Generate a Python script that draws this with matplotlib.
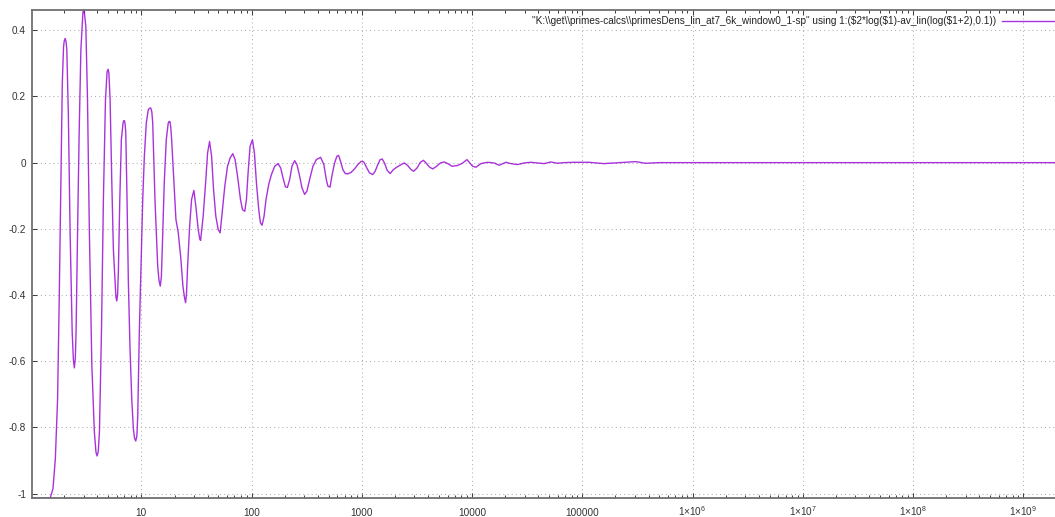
import numpy as np
import matplotlib
matplotlib.use('Agg')
import matplotlib.pyplot as plt
from matplotlib.ticker import FixedLocator, LogLocator, NullFormatter

# curve (x on a log axis)
x_values = [
    1.02, 1.49, 1.58, 1.66, 1.74, 1.80, 1.87, 1.92, 1.97, 2.00, 2.04, 2.08, 2.11, 2.18, 2.26,
    2.36, 2.42, 2.47, 2.52, 2.56, 2.64, 2.73, 2.83, 2.95, 2.99, 3.03, 3.14, 3.25, 3.38, 3.56,
    3.75, 3.88, 3.97, 4.07, 4.17, 4.35, 4.53, 4.73, 4.89, 5.00, 5.08,
    5.21, 5.40, 5.58, 5.78, 5.88, 5.99, 6.09, 6.19, 6.38, 6.59, 6.83, 6.92, 7.02, 7.12, 7.23,
    7.42, 7.63, 7.90, 8.19, 8.47, 8.68, 8.90, 9.11, 9.28, 9.59, 9.94, 10.30, 10.65, 11.10,
    11.57, 11.87, 12.17, 12.45, 12.69, 13.30, 14.08, 14.46, 14.86, 15.20, 15.49, 16.15, 16.84,
    17.55, 17.85, 18.18, 18.49, 18.84, 19.77, 20.61, 21.62, 22.73, 23.85, 24.65, 25.22, 25.70,
    26.30, 27.42, 28.58, 29.99, 31.26, 32.80, 33.98,
    34.5, 36.4, 38.3, 39.9, 41.6, 43.4, 45.2, 47.4, 49.8, 51.9, 54.1, 57.2, 60.5, 63.9, 67.6,
    70.9, 74.6, 79.3, 82.7, 86.8, 89.9, 93.0, 96.9, 101.9, 106.2, 110.7, 116.2, 120.4, 124.5,
    129.8, 135.3, 143.1, 151.4, 162.2, 173.7, 183.8, 192.8, 202.7, 211.3, 221.7, 232.6, 246.0,
    258.1, 273.1, 286.4, 302.9, 317.8, 336.3, 360.3, 386.7, 422.9, 453.0,
    476.2, 492.4, 515.4, 535.1, 566.1, 594.0, 615.4, 641.6, 673.2, 707.7, 747.1, 802.0, 859.0,
    920.1, 987.6, 1042.5, 1109.7, 1174.0, 1257.5, 1322.1, 1395.6, 1467.4, 1529.8, 1605.0,
    1698.0, 1807.2, 1936.0, 2091.3, 2273.2, 2434.9, 2608.9, 2800.4, 2956.3, 3172.8, 3398.4,
    3618.1, 3827.3, 4100.8, 4391.7, 4772.2, 5154.7, 5603.1, 6090, 6578, 7346, 8151, 8990,
    10104, 10847, 12035, 13812, 15884, 17634, 20270, 22490, 25812, 29677, 34119, 39155,
    45024, 51761, 59400, 68299, 84093, 115000, 157200, 214900, 304200, 374800, 494500,
    1e6, 1e7, 1e8, 1e9, 2e9,
]
y_values = [
    -1.013, -1.013, -0.985, -0.895, -0.714, -0.413, -0.012, 0.241, 0.349, 0.368, 0.375, 0.364,
    0.340, 0.139, -0.211, -0.512, -0.595, -0.620, -0.590, -0.512, -0.211, 0.090, 0.340, 0.452,
    0.461, 0.461, 0.410, 0.190, -0.211, -0.614, -0.813, -0.875, -0.886, -0.872, -0.813, -0.512,
    -0.111, 0.190, 0.274, 0.282, 0.270,
    0.190, -0.060, -0.262, -0.361, -0.405, -0.418, -0.400, -0.331, -0.111, 0.069, 0.120, 0.126,
    0.127, 0.118, 0.090, -0.111, -0.361, -0.563, -0.714, -0.804, -0.832, -0.841, -0.826, -0.765,
    -0.512, -0.313, -0.111, 0.018, 0.120, 0.160, 0.164, 0.165, 0.154, 0.120, -0.111, -0.313,
    -0.355, -0.373, -0.345, -0.262, -0.060, 0.069, 0.120, 0.124, 0.124, 0.108, 0.069, -0.060,
    -0.172, -0.211, -0.283, -0.373, -0.408, -0.423, -0.395, -0.313, -0.193, -0.111, -0.084,
    -0.133, -0.202, -0.232,
    -0.235, -0.162, -0.061, 0.029, 0.064, 0.019, -0.081, -0.162, -0.202, -0.212, -0.152, -0.071,
    -0.011, 0.014, 0.027, 0.009, -0.041, -0.111, -0.142, -0.147, -0.111, -0.031, 0.049, 0.069,
    0.029, -0.061, -0.142, -0.182, -0.189, -0.162, -0.111, -0.066, -0.036, -0.011, -0.003,
    -0.016, -0.046, -0.073, -0.075, -0.051, -0.011, 0.006, -0.006, -0.041, -0.076, -0.096,
    -0.086, -0.051, -0.011, 0.009, 0.016, -0.006,
    -0.051, -0.071, -0.074, -0.041, -0.001, 0.019, 0.022, 0.004, -0.021, -0.033, -0.034, -0.029,
    -0.019, -0.006, 0.004, 0.002, -0.016, -0.031, -0.036, -0.026, -0.006, 0.009, 0.011, -0.001,
    -0.023, -0.033, -0.021, -0.013, -0.006, -0.001, -0.009, -0.021, -0.026, -0.016, 0.001,
    0.007, -0.001, -0.013, -0.019, -0.011, -0.001, 0.002, -0.004, -0.011, -0.009, -0.002,
    0.009, -0.011, -0.014, -0.003, 0.001, -0.001, -0.008, 0.001, -0.003, -0.006, -0.001,
    0.001, -0.001, -0.003, 0.002, -0.002, 0.0, 0.001, 0.001, -0.003, 0.0, 0.003, -0.002, 0.0,
    0.0, 0.0, 0.0, 0.0, 0.0,
]

xtick_values = [10, 100, 1000, 10000, 100000, 1e6, 1e7, 1e8, 1e9]
xtick_labels = ['10', '100', '1000', '10000', '100000',
                '1×10$^{6}$', '1×10$^{7}$', '1×10$^{8}$', '1×10$^{9}$']
ytick_values = [-1, -0.8, -0.6, -0.4, -0.2, 0, 0.2, 0.4]
ytick_labels = ['-1', '-0.8', '-0.6', '-0.4', '-0.2', '0', '0.2', '0.4']

legend_label = (r'"K:\\get\\primes-calcs\\primesDens_lin_at7_6k_window0_1-sp" '
                r'using 1:(\$2*log(\$1)-av_lin(log(\$1+2),0.1))')

plt.rcParams['font.family'] = ['Liberation Sans', 'DejaVu Sans']
plt.rcParams['mathtext.default'] = 'regular'

fs = 7.2
fig = plt.figure(figsize=(10.55, 5.17), dpi=100)
ax = fig.add_axes([32.3 / 1055, 19 / 517, (1055 - 32.3) / 1055, 488 / 517])

ax.plot(x_values, y_values, color='#9400d3', lw=1.0, alpha=0.8, label=legend_label)

ax.set_xscale('log')
ax.set_xlim(1.026, 1.94e9)
ax.set_ylim(-1.013, 0.461)

ax.xaxis.set_major_locator(FixedLocator(xtick_values))
ax.xaxis.set_minor_locator(LogLocator(base=10, subs=np.arange(2, 10), numticks=50))
ax.xaxis.set_minor_formatter(NullFormatter())
ax.set_xticks(xtick_values)
ax.set_xticklabels(xtick_labels)
ax.set_yticks(ytick_values)
ax.set_yticklabels(ytick_labels)

ax.tick_params(axis='both', which='both', direction='in', top=True, right=False,
               color='#404040', width=0.75, labelsize=fs, labelcolor='#333333')
ax.tick_params(axis='both', which='major', length=3.6)
ax.tick_params(axis='both', which='minor', length=2.2)
ax.tick_params(axis='x', pad=13)
ax.tick_params(axis='y', pad=4.5)
for lab in ax.get_xticklabels():
    lab.set_verticalalignment('baseline')

ax.grid(True, which='major', color='#b0b0b0', linestyle=(0, (1, 3)), lw=0.75)

for side in ['left', 'bottom', 'top']:
    ax.spines[side].set_color('#707070')
    ax.spines[side].set_linewidth(1.3)
ax.spines['right'].set_visible(False)

ax.legend(loc='upper right', bbox_to_anchor=(1.0, 1 - 6 / 488), frameon=False,
          markerfirst=False, handlelength=5.3, handletextpad=0.55, borderaxespad=0,
          borderpad=0, fontsize=fs, labelcolor='#222222')

fig.savefig('out.png', dpi=100)
